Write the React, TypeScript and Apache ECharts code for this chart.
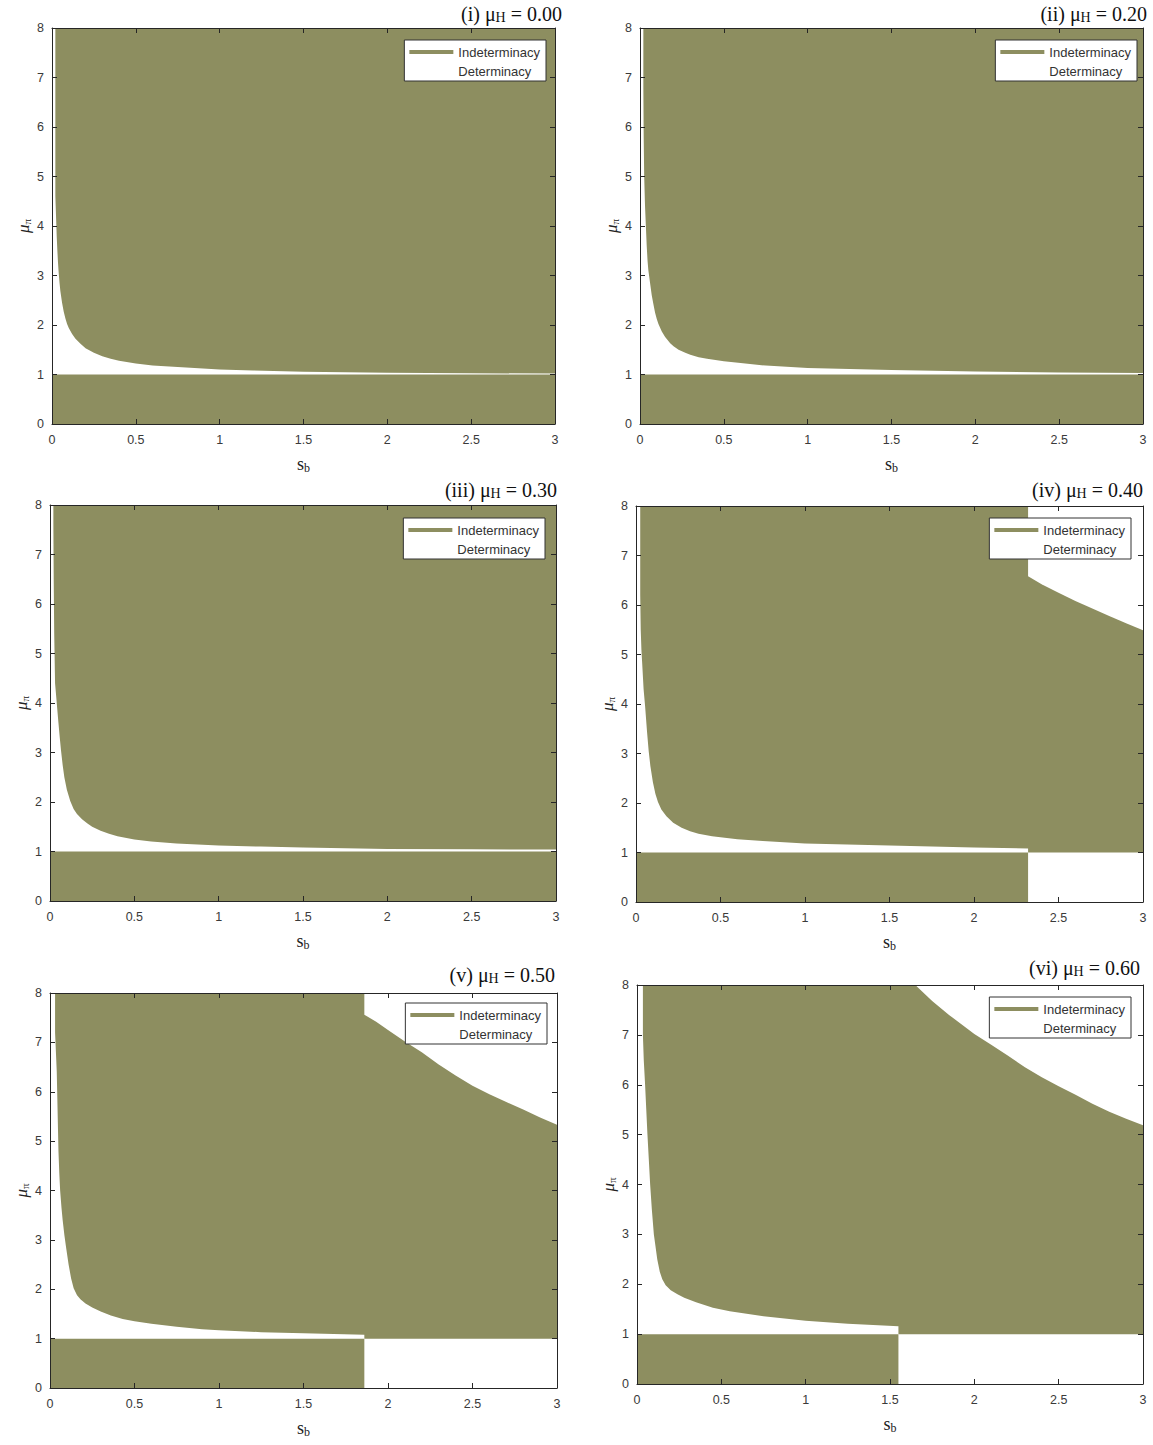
import React, { useEffect, useRef } from 'react';
import * as echarts from 'echarts';

const OLIVE = '#8d8e60';
const AXIS_COLOR = '#262626';

const panelLabels = ['(i)', '(ii)', '(iii)', '(iv)', '(v)', '(vi)'];
const muHValues = ['0.00', '0.20', '0.30', '0.40', '0.50', '0.60'];
const legendNames = ['Indeterminacy', 'Determinacy'];

// s_b value where the lower determinacy band / lower boundary jump ends
const thresholds = [3, 3, 3, 2.32, 1.86, 1.55];

// Lower boundary of the upper indeterminacy region (s_b, mu_pi)
const lowerCurveI: [number, number][] = [
  [0.02, 8], [0.02, 4.6], [0.022, 4.4], [0.025, 4.1], [0.028, 3.8], [0.032, 3.5], [0.036, 3.25],
  [0.04, 3.05], [0.045, 2.85], [0.05, 2.68], [0.06, 2.45], [0.07, 2.27], [0.08, 2.13], [0.09, 2.02],
  [0.1, 1.94], [0.12, 1.82], [0.14, 1.72], [0.17, 1.62], [0.2, 1.53], [0.25, 1.44], [0.3, 1.37],
  [0.35, 1.32], [0.4, 1.28], [0.5, 1.22], [0.6, 1.18], [0.7, 1.16], [0.85, 1.13], [1.0, 1.1],
  [1.2, 1.08], [1.5, 1.055], [2.0, 1.035], [2.5, 1.025], [3.0, 1.02],
];
const lowerCurveII: [number, number][] = [
  [0.02, 8], [0.02, 6.8], [0.022, 5.8], [0.025, 5.0], [0.03, 4.4], [0.035, 4.0], [0.04, 3.6],
  [0.045, 3.3], [0.05, 3.1], [0.06, 2.85], [0.07, 2.6], [0.08, 2.42], [0.09, 2.25], [0.1, 2.12],
  [0.11, 2.02], [0.13, 1.87], [0.15, 1.76], [0.18, 1.63], [0.2, 1.57], [0.23, 1.5], [0.27, 1.44],
  [0.3, 1.4], [0.35, 1.35], [0.4, 1.32], [0.5, 1.27], [0.6, 1.23], [0.75, 1.18], [0.9, 1.15],
  [1.0, 1.13], [1.25, 1.11], [1.5, 1.09], [2.0, 1.06], [2.5, 1.04], [3.0, 1.03],
];
const lowerCurveIII: [number, number][] = [
  [0.02, 8], [0.02, 7.6], [0.022, 6.5], [0.025, 5.4], [0.03, 4.4], [0.04, 4.0], [0.05, 3.6],
  [0.058, 3.3], [0.065, 3.05], [0.075, 2.75], [0.085, 2.5], [0.1, 2.25], [0.12, 2.02], [0.14, 1.86],
  [0.16, 1.76], [0.19, 1.65], [0.22, 1.57], [0.25, 1.5], [0.3, 1.42], [0.35, 1.36], [0.4, 1.31],
  [0.5, 1.24], [0.6, 1.2], [0.75, 1.16], [1.0, 1.12], [1.25, 1.1], [1.5, 1.08], [2.0, 1.05],
  [2.5, 1.045], [3.0, 1.04],
];
const lowerCurveIV: [number, number][] = [
  [0.025, 8], [0.025, 6.2], [0.028, 5.5], [0.032, 5.1], [0.037, 4.8], [0.045, 4.3], [0.054, 3.95],
  [0.065, 3.45], [0.075, 3.05], [0.085, 2.75], [0.1, 2.42], [0.115, 2.18], [0.13, 2.02], [0.15, 1.87],
  [0.18, 1.73], [0.22, 1.6], [0.27, 1.5], [0.32, 1.43], [0.37, 1.38], [0.45, 1.33], [0.5, 1.31],
  [0.6, 1.27], [0.75, 1.23], [1.0, 1.18], [1.25, 1.16], [1.5, 1.14], [2.0, 1.1], [2.32, 1.08],
];
const lowerCurveV: [number, number][] = [
  [0.03, 8], [0.03, 7.2], [0.035, 6.8], [0.04, 6.4], [0.045, 5.6], [0.05, 4.8], [0.055, 4.35],
  [0.06, 4.0], [0.068, 3.65], [0.075, 3.4], [0.085, 3.1], [0.095, 2.85], [0.11, 2.5], [0.125, 2.22],
  [0.14, 2.02], [0.16, 1.88], [0.18, 1.8], [0.21, 1.71], [0.25, 1.63], [0.3, 1.55], [0.36, 1.47],
  [0.43, 1.4], [0.5, 1.35], [0.6, 1.3], [0.75, 1.24], [0.9, 1.19], [1.0, 1.17], [1.25, 1.13],
  [1.5, 1.11], [1.86, 1.08],
];
const lowerCurveVI: [number, number][] = [
  [0.035, 8], [0.035, 7.0], [0.04, 6.5], [0.048, 6.0], [0.055, 5.5], [0.062, 5.0], [0.07, 4.5],
  [0.078, 4.0], [0.088, 3.5], [0.1, 3.0], [0.11, 2.75], [0.12, 2.5], [0.135, 2.25], [0.15, 2.1],
  [0.17, 1.98], [0.2, 1.88], [0.24, 1.8], [0.28, 1.73], [0.35, 1.64], [0.45, 1.53], [0.55, 1.46],
  [0.65, 1.41], [0.75, 1.36], [1.0, 1.27], [1.25, 1.21], [1.55, 1.16],
];

// Upper boundary (above which it is determinate again) for panels iv-vi
const upperCurveIV: [number, number][] = [
  [2.32, 8], [2.32, 6.58], [2.4, 6.42], [2.5, 6.25], [2.6, 6.08], [2.7, 5.93], [2.8, 5.78],
  [2.9, 5.63], [3.0, 5.49],
];
const upperCurveV: [number, number][] = [
  [1.86, 8], [1.86, 7.56], [1.93, 7.42], [2.0, 7.25], [2.1, 7.02], [2.2, 6.8], [2.3, 6.55],
  [2.4, 6.33], [2.5, 6.12], [2.6, 5.95], [2.7, 5.79], [2.8, 5.64], [2.9, 5.48], [3.0, 5.33],
];
const upperCurveVI: [number, number][] = [
  [1.65, 8], [1.75, 7.68], [1.85, 7.4], [2.0, 7.02], [2.1, 6.8], [2.2, 6.58], [2.3, 6.35],
  [2.4, 6.15], [2.5, 5.97], [2.6, 5.8], [2.7, 5.62], [2.8, 5.46], [2.9, 5.32], [3.0, 5.19],
];

const lowerCurves = [lowerCurveI, lowerCurveII, lowerCurveIII, lowerCurveIV, lowerCurveV, lowerCurveVI];
const upperCurves: ([number, number][] | null)[] = [null, null, null, upperCurveIV, upperCurveV, upperCurveVI];

const X_MIN = 0, X_MAX = 3, X_STEP = 0.5;
const Y_MIN = 0, Y_MAX = 8, Y_STEP = 1;

// Layout (pixels)
const grids = [
  { left: 52, top: 28, width: 503, height: 396 },
  { left: 640, top: 28, width: 503, height: 396 },
  { left: 50, top: 505, width: 506, height: 396 },
  { left: 636, top: 506, width: 507, height: 396 },
  { left: 50, top: 993, width: 507, height: 395 },
  { left: 637, top: 985, width: 506, height: 399 },
];
const titlePos = [
  { right: 591, top: 2 }, { right: 6, top: 2 },
  { right: 596, top: 478 }, { right: 10, top: 478 },
  { right: 598, top: 963 }, { right: 13, top: 956 },
];
const legendPos = [
  { right: 607, top: 40 }, { right: 16, top: 40 },
  { right: 608, top: 518 }, { right: 22, top: 518 },
  { right: 606, top: 1003 }, { right: 22, top: 997 },
];

const SANS = 'Liberation Sans, Arial, Helvetica, sans-serif';
const SERIF = 'Liberation Serif, Times New Roman, serif';

function buildOption() {
  const title: any[] = [];
  const legend: any[] = [];
  const xAxis: any[] = [];
  const yAxis: any[] = [];
  const series: any[] = [];

  grids.forEach((g, k) => {
    title.push({
      text: `{a|${panelLabels[k]} μ}{b|H}{a| = ${muHValues[k]}}`,
      right: titlePos[k].right,
      top: titlePos[k].top,
      padding: 0,
      textStyle: {
        fontWeight: 'normal',
        rich: {
          a: { fontSize: 20, fontFamily: SERIF, fontWeight: 'normal', color: '#111', lineHeight: 24 },
          b: { fontSize: 14, fontFamily: SERIF, fontWeight: 'normal', color: '#111', padding: [7, 0, 0, 0], lineHeight: 14 },
        },
      },
    });

    legend.push({
      orient: 'vertical',
      right: legendPos[k].right,
      top: legendPos[k].top,
      icon: 'rect',
      itemWidth: 44,
      itemHeight: 4,
      itemGap: 5,
      selectedMode: false,
      backgroundColor: '#fff',
      borderColor: '#333',
      borderWidth: 1,
      borderRadius: 0,
      padding: [5, 6, 3, 5],
      z: 20,
      textStyle: { fontSize: 13, color: '#333', fontFamily: SANS, lineHeight: 14 },
      data: [
        { name: legendNames[0], itemStyle: { color: OLIVE } },
        { name: legendNames[1], itemStyle: { color: '#fff' } },
      ],
    });

    const tick = { show: true, inside: true, length: 5, lineStyle: { color: AXIS_COLOR, width: 1 } };
    const line = { show: true, onZero: false, lineStyle: { color: AXIS_COLOR, width: 1 } };

    xAxis.push({
      type: 'value', gridIndex: k, min: X_MIN, max: X_MAX, interval: X_STEP, position: 'bottom', z: 10,
      axisLine: line, axisTick: tick, splitLine: { show: false },
      axisLabel: { color: '#3a3a3a', fontSize: 12.5, fontFamily: SANS, margin: 9 },
      name: '{s|s}{b|b}', nameLocation: 'middle', nameGap: 30,
      nameTextStyle: {
        rich: {
          s: { fontSize: 18, fontFamily: SERIF, color: '#222' },
          b: { fontSize: 12, fontFamily: SERIF, color: '#222', padding: [8, 0, 0, 0] },
        },
      },
    });
    xAxis.push({
      type: 'value', gridIndex: k, min: X_MIN, max: X_MAX, interval: X_STEP, position: 'top', z: 10,
      axisLine: line, axisTick: tick, splitLine: { show: false }, axisLabel: { show: false },
    });
    yAxis.push({
      type: 'value', gridIndex: k, min: Y_MIN, max: Y_MAX, interval: Y_STEP, position: 'left', z: 10,
      axisLine: line, axisTick: tick, splitLine: { show: false },
      axisLabel: { color: '#3a3a3a', fontSize: 12.5, fontFamily: SANS, margin: 8 },
      name: '{m|μ}{p|π}', nameLocation: 'middle', nameGap: 20, nameRotate: 90,
      nameTextStyle: {
        rich: {
          m: { fontSize: 17, fontFamily: SERIF, fontStyle: 'italic', color: '#222' },
          p: { fontSize: 11, fontFamily: SERIF, color: '#222', padding: [7, 0, 0, 0] },
        },
      },
    });
    yAxis.push({
      type: 'value', gridIndex: k, min: Y_MIN, max: Y_MAX, interval: Y_STEP, position: 'right', z: 10,
      axisLine: line, axisTick: tick, splitLine: { show: false }, axisLabel: { show: false },
    });

    const T = thresholds[k];
    const lower = lowerCurves[k].slice();
    if (T < X_MAX) {
      lower.push([T, 1]);
      lower.push([X_MAX, 1]);
    }

    const common = {
      type: 'line', xAxisIndex: 2 * k, yAxisIndex: 2 * k, symbol: 'none', showSymbol: false,
      silent: true, lineStyle: { width: 0 }, clip: true,
    };

    series.push({
      ...common, name: legendNames[0], color: OLIVE, data: lower,
      areaStyle: { color: OLIVE, opacity: 1, origin: 'end' },
    });
    series.push({
      ...common, name: legendNames[0], color: OLIVE, data: [[0, 1], [T, 1]],
      areaStyle: { color: OLIVE, opacity: 1, origin: 'start' },
    });
    series.push({
      ...common, name: legendNames[1], color: '#fff', data: upperCurves[k] || [],
      areaStyle: { color: '#fff', opacity: 1, origin: 'end' },
    });
  });

  return {
    animation: false,
    backgroundColor: '#fff',
    title,
    legend,
    grid: grids.map((g) => ({ ...g, containLabel: false })),
    xAxis,
    yAxis,
    series,
  };
}

export default function App() {
  const ref = useRef<HTMLDivElement>(null);
  useEffect(() => {
    if (!ref.current) return;
    const chart = echarts.init(ref.current, undefined, { renderer: 'svg' });
    chart.setOption(buildOption() as any);
    return () => chart.dispose();
  }, []);
  return (
    <div
      ref={ref}
      style={{ position: 'absolute', left: 0, top: 0, width: 1153, height: 1445, background: '#fff' }}
    />
  );
}
